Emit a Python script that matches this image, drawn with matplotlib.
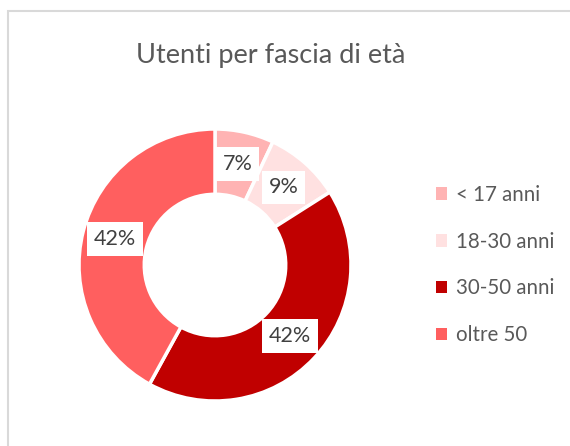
import matplotlib
matplotlib.use("Agg")
import matplotlib.pyplot as plt
from matplotlib.patches import Rectangle

categories = ["< 17 anni", "18-30 anni", "30-50 anni", "oltre 50"]
values = [7, 9, 42, 42]
colors = ["#FFB3B3", "#FFE1E1", "#C00000", "#FF5F5F"]
title = "Utenti per fascia di età"

plt.rcParams['font.family'] = ['Lato', 'DejaVu Sans']

W, H = 570, 446
fig = plt.figure(figsize=(W / 100, H / 100), dpi=100)
fig.patch.set_facecolor("white")

# chart border (cropped Excel frame)
fig.add_artist(Rectangle((8 / W, -0.1), 1.2, (H - 11) / H + 0.1, transform=fig.transFigure,
                         fill=False, edgecolor="#D9D9D9", linewidth=1.5))

cx, cy, r = 215, 265, 136
ax = fig.add_axes([(cx - r) / W, (H - cy - r) / H, 2 * r / W, 2 * r / H])
wedges, texts, autotexts = ax.pie(
    values, colors=colors, startangle=90, counterclock=False,
    wedgeprops=dict(width=0.48, edgecolor="white", linewidth=2.5),
    autopct=lambda p: f"{p:.0f}%", pctdistance=0.76,
    textprops=dict(fontsize=15.5, color="#404040"))
for t in autotexts:
    t.set_bbox(dict(facecolor="white", edgecolor="none", pad=5))
ax.set_xlim(-1, 1)
ax.set_ylim(-1, 1)
ax.axis("off")

fig.text(271 / W, 1 - 55 / H, title, ha="center", va="center", fontsize=19.5, color="#595959")

leg = fig.legend(wedges, categories, loc="center left", bbox_to_anchor=(417 / W, 1 - 265 / H),
                 frameon=False, handlelength=0.55, handleheight=0.55, handletextpad=0.45,
                 labelspacing=1.3, fontsize=14.8, labelcolor="#595959")
for h in leg.legend_handles:
    h.set_linewidth(0)

fig.savefig("out.png", dpi=100, facecolor="white")
